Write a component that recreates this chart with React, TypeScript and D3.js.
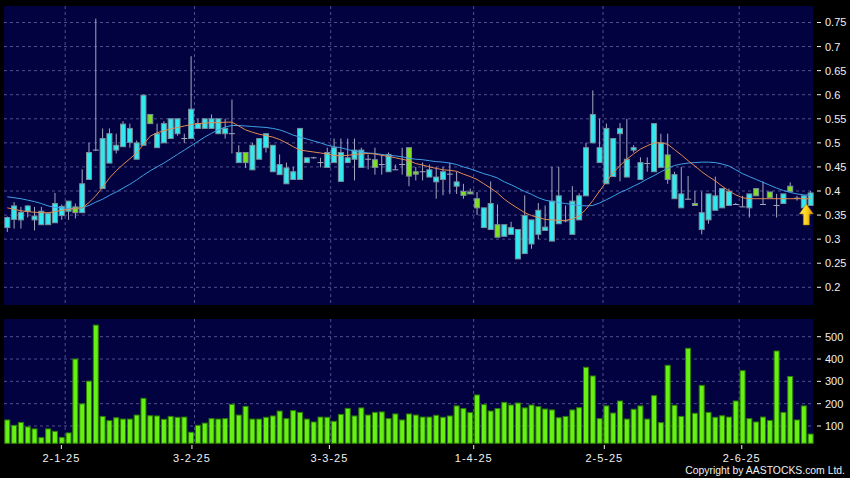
import React from 'react';
import * as d3 from 'd3';

// ---------- data ----------
const xTickLabels = ['2-1-25', '3-2-25', '3-3-25', '1-4-25', '2-5-25', '2-6-25'];
const xTickIndex = [9, 28, 48, 69, 88, 108];
const priceTicks = [0.2, 0.25, 0.3, 0.35, 0.4, 0.45, 0.5, 0.55, 0.6, 0.65, 0.7, 0.75];
const volumeTicks = [100, 200, 300, 400, 500];

const openPrices = [
  0.324, 0.341, 0.340, 0.358, 0.340, 0.330, 0.330, 0.334, 0.349, 0.358,
  0.367, 0.355, 0.424, 0.485, 0.405, 0.458, 0.485, 0.492, 0.501, 0.466,
  0.495, 0.559, 0.490, 0.500, 0.509, 0.519, 0.509, 0.509, 0.530, 0.530,
  0.530, 0.519, 0.519, 0.519, 0.459, 0.480, 0.444, 0.466, 0.490, 0.440,
  0.434, 0.415, 0.424, 0.424, 0.459, 0.469, 0.459, 0.449, 0.459, 0.420,
  0.459, 0.466, 0.449, 0.466, 0.465, 0.455, 0.440, 0.444, 0.455, 0.490,
  0.440, 0.440, 0.429, 0.419, 0.424, 0.435, 0.410, 0.399, 0.398, 0.384,
  0.324, 0.320, 0.330, 0.306, 0.310, 0.259, 0.270, 0.290, 0.310, 0.318,
  0.296, 0.332, 0.338, 0.310, 0.340, 0.390, 0.500, 0.459, 0.415, 0.430,
  0.519, 0.429, 0.485, 0.424, 0.457, 0.440, 0.449, 0.475, 0.384, 0.365,
  0.383, 0.374, 0.320, 0.340, 0.360, 0.365, 0.370, 0.372, 0.367, 0.365,
  0.405, 0.372, 0.398, 0.370, 0.374, 0.410, 0.385, 0.365, 0.370,
];
const highPrices = [
  0.347, 0.377, 0.367, 0.370, 0.367, 0.367, 0.355, 0.396, 0.372, 0.379,
  0.374, 0.445, 0.500, 0.758, 0.530, 0.530, 0.519, 0.545, 0.540, 0.505,
  0.600, 0.559, 0.540, 0.545, 0.550, 0.550, 0.519, 0.680, 0.550, 0.550,
  0.559, 0.550, 0.550, 0.590, 0.495, 0.480, 0.500, 0.509, 0.519, 0.495,
  0.476, 0.459, 0.450, 0.530, 0.469, 0.471, 0.469, 0.490, 0.509, 0.509,
  0.509, 0.509, 0.490, 0.476, 0.490, 0.476, 0.480, 0.455, 0.490, 0.490,
  0.450, 0.459, 0.455, 0.450, 0.450, 0.459, 0.440, 0.415, 0.405, 0.398,
  0.365, 0.420, 0.372, 0.330, 0.336, 0.320, 0.391, 0.340, 0.375, 0.370,
  0.450, 0.450, 0.370, 0.410, 0.395, 0.500, 0.609, 0.550, 0.540, 0.509,
  0.541, 0.550, 0.495, 0.470, 0.470, 0.540, 0.519, 0.519, 0.440, 0.450,
  0.431, 0.400, 0.399, 0.394, 0.430, 0.405, 0.405, 0.375, 0.390, 0.394,
  0.405, 0.420, 0.398, 0.394, 0.394, 0.418, 0.390, 0.390, 0.400,
];
const lowPrices = [
  0.315, 0.322, 0.322, 0.345, 0.318, 0.330, 0.330, 0.334, 0.340, 0.340,
  0.343, 0.355, 0.424, 0.483, 0.405, 0.458, 0.478, 0.492, 0.490, 0.466,
  0.495, 0.540, 0.490, 0.500, 0.509, 0.515, 0.500, 0.509, 0.530, 0.530,
  0.530, 0.519, 0.509, 0.478, 0.459, 0.448, 0.444, 0.466, 0.480, 0.440,
  0.434, 0.415, 0.424, 0.424, 0.459, 0.467, 0.449, 0.449, 0.459, 0.420,
  0.459, 0.422, 0.449, 0.445, 0.434, 0.434, 0.440, 0.444, 0.434, 0.410,
  0.422, 0.422, 0.429, 0.384, 0.391, 0.394, 0.394, 0.384, 0.394, 0.350,
  0.324, 0.320, 0.304, 0.306, 0.310, 0.259, 0.270, 0.280, 0.300, 0.318,
  0.296, 0.332, 0.335, 0.310, 0.340, 0.390, 0.500, 0.459, 0.415, 0.430,
  0.420, 0.429, 0.480, 0.424, 0.440, 0.440, 0.449, 0.415, 0.384, 0.365,
  0.383, 0.370, 0.310, 0.332, 0.360, 0.365, 0.370, 0.372, 0.367, 0.345,
  0.390, 0.372, 0.386, 0.345, 0.374, 0.399, 0.380, 0.365, 0.370,
];
const closePrices = [
  0.345, 0.369, 0.356, 0.369, 0.348, 0.358, 0.353, 0.374, 0.368, 0.379,
  0.355, 0.415, 0.480, 0.485, 0.509, 0.519, 0.495, 0.539, 0.530, 0.500,
  0.599, 0.540, 0.519, 0.540, 0.550, 0.550, 0.509, 0.570, 0.540, 0.550,
  0.550, 0.550, 0.530, 0.519, 0.480, 0.459, 0.495, 0.509, 0.519, 0.495,
  0.455, 0.448, 0.440, 0.530, 0.469, 0.469, 0.459, 0.480, 0.490, 0.480,
  0.469, 0.485, 0.485, 0.466, 0.449, 0.455, 0.476, 0.444, 0.455, 0.431,
  0.435, 0.440, 0.444, 0.429, 0.440, 0.435, 0.419, 0.391, 0.394, 0.365,
  0.365, 0.374, 0.304, 0.330, 0.324, 0.320, 0.349, 0.340, 0.360, 0.325,
  0.379, 0.390, 0.338, 0.379, 0.390, 0.490, 0.559, 0.490, 0.530, 0.509,
  0.530, 0.466, 0.490, 0.459, 0.457, 0.540, 0.500, 0.424, 0.434, 0.394,
  0.383, 0.370, 0.355, 0.394, 0.390, 0.405, 0.399, 0.372, 0.367, 0.394,
  0.390, 0.372, 0.386, 0.370, 0.394, 0.399, 0.385, 0.390, 0.396,
];
const volumes = [
  127, 103, 116, 96, 87, 48, 87, 76, 49, 69,
  400, 199, 301, 552, 143, 124, 137, 131, 131, 149,
  224, 146, 145, 130, 143, 139, 140, 72, 103, 113,
  133, 131, 133, 197, 149, 188, 131, 131, 139, 145,
  167, 133, 169, 161, 131, 118, 140, 139, 121, 152,
  179, 145, 181, 149, 161, 163, 133, 154, 127, 154,
  149, 140, 140, 148, 139, 145, 190, 178, 160, 239,
  196, 167, 178, 206, 194, 203, 181, 194, 187, 176,
  172, 137, 143, 172, 182, 363, 324, 133, 190, 158,
  212, 131, 175, 190, 131, 236, 115, 372, 193, 143,
  448, 157, 282, 161, 139, 146, 140, 212, 348, 133,
  118, 140, 125, 436, 161, 322, 127, 190, 64,
];
const maShort = [
  0.365, 0.362, 0.359, 0.357, 0.356, 0.355, 0.355, 0.357, 0.360, 0.362,
  0.364, 0.365, 0.376, 0.390, 0.408, 0.427, 0.442, 0.455, 0.467, 0.479,
  0.497, 0.514, 0.521, 0.525, 0.529, 0.532, 0.535, 0.538, 0.540, 0.541,
  0.542, 0.542, 0.543, 0.543, 0.535, 0.527, 0.522, 0.518, 0.515, 0.512,
  0.507, 0.500, 0.492, 0.485, 0.483, 0.481, 0.479, 0.477, 0.474, 0.473,
  0.474, 0.476, 0.477, 0.478, 0.477, 0.474, 0.472, 0.469, 0.466, 0.463,
  0.457, 0.454, 0.450, 0.447, 0.444, 0.443, 0.441, 0.435, 0.430, 0.424,
  0.415, 0.406, 0.396, 0.383, 0.373, 0.364, 0.355, 0.349, 0.345, 0.341,
  0.340, 0.339, 0.339, 0.342, 0.348, 0.362, 0.380, 0.400, 0.420, 0.438,
  0.453, 0.466, 0.477, 0.487, 0.494, 0.500, 0.500, 0.497, 0.486, 0.475,
  0.463, 0.452, 0.440, 0.430, 0.421, 0.410, 0.400, 0.392, 0.386, 0.384,
  0.384, 0.384, 0.384, 0.384, 0.384, 0.384, 0.384, 0.384, 0.384,
];
const maLong = [
  0.388, 0.386, 0.384, 0.381, 0.378, 0.374, 0.369, 0.366, 0.365, 0.364,
  0.364, 0.365, 0.370, 0.377, 0.383, 0.391, 0.398, 0.406, 0.414, 0.423,
  0.433, 0.442, 0.450, 0.458, 0.467, 0.476, 0.485, 0.494, 0.503, 0.512,
  0.520, 0.527, 0.533, 0.536, 0.536, 0.535, 0.534, 0.533, 0.532, 0.530,
  0.527, 0.522, 0.516, 0.512, 0.508, 0.504, 0.500, 0.495, 0.492, 0.490,
  0.486, 0.483, 0.481, 0.479, 0.478, 0.476, 0.474, 0.473, 0.471, 0.468,
  0.466, 0.465, 0.463, 0.461, 0.460, 0.458, 0.455, 0.450, 0.446, 0.441,
  0.436, 0.432, 0.427, 0.419, 0.413, 0.406, 0.399, 0.393, 0.386, 0.381,
  0.378, 0.376, 0.374, 0.372, 0.370, 0.369, 0.370, 0.375, 0.382, 0.389,
  0.397, 0.403, 0.410, 0.417, 0.425, 0.432, 0.440, 0.447, 0.453, 0.456,
  0.458, 0.459, 0.460, 0.460, 0.459, 0.456, 0.452, 0.444, 0.436, 0.430,
  0.424, 0.418, 0.412, 0.406, 0.401, 0.397, 0.394, 0.392, 0.391,
];

// ---------- layout ----------
const W = 850;
const H = 478;
const plotLeft = 4;
const plotRight = 813;
const priceTop = 6;
const priceBottom = 305;
const volTop = 319;
const volBottom = 443.3;

const colors = {
  page: '#000000',
  panel: '#020240',
  grid: '#50508f',
  text: '#f0f0f0',
  up: '#31eaf0',
  down: '#7fe022',
  bodyStroke: '#7a8f9c',
  wick: '#a4a8bc',
  vol: '#66f014',
  volStroke: '#2e7d05',
  maShort: '#e38a4f',
  maLong: '#3f9fe6',
};

export default function App() {
  const n = closePrices.length;
  const idx = d3.range(n);

  const x = d3
    .scaleBand<number>()
    .domain(idx)
    .range([3.9, 814.05])
    .paddingInner(0.12)
    .paddingOuter(0.06);
  const step = x.step();
  const bw = x.bandwidth();
  const cx = (i: number) => (x(i) as number) + bw / 2;
  const gridX = (i: number) => (x(i) as number) - (step - bw) / 2;

  const tickX = d3.scaleLinear().domain([0, n - 1]).range([-0.5, 810.5]);

  const y = d3.scaleLinear().domain([0.2, 0.75]).range([287.3, 22.5]);
  const yv = d3.scaleLinear().domain([100, 500]).range([426, 336.7]);

  const lineShort = d3
    .line<number>()
    .x((_, i) => cx(i))
    .y((d) => y(d));

  const font = "'Liberation Sans', Arial, sans-serif";

  const lastI = n - 1;
  const ax = cx(lastI) - 4.3;
  const ay = y(lowPrices[lastI]) - 1.5;
  const arrowPath = `M${ax},${ay} L${ax + 7},${ay + 10} L${ax + 3},${ay + 10} L${ax + 3},${ay + 21} L${ax - 3},${ay + 21} L${ax - 3},${ay + 10} L${ax - 7},${ay + 10} Z`;

  return (
    <svg
      width={W}
      height={H}
      style={{ position: 'absolute', left: 0, top: 0, display: 'block' }}
      xmlns="http://www.w3.org/2000/svg"
    >
      <defs>
        <linearGradient id="arrowGrad" x1="0" x2="1" y1="0" y2="0">
          <stop offset="0" stopColor="#fff07a" />
          <stop offset="0.5" stopColor="#ffd21c" />
          <stop offset="1" stopColor="#d99400" />
        </linearGradient>
      </defs>
      <rect x={0} y={0} width={W} height={H} fill={colors.page} />
      {/* panels */}
      <rect x={plotLeft} y={priceTop} width={plotRight - plotLeft} height={priceBottom - priceTop} fill={colors.panel} />
      <rect x={plotLeft} y={volTop} width={plotRight - plotLeft} height={volBottom - volTop} fill={colors.panel} />

      {/* price grid */}
      {priceTicks.map((t) => (
        <line key={'pg' + t} x1={plotLeft} x2={plotRight} y1={y(t)} y2={y(t)} stroke={colors.grid} strokeWidth={1} strokeDasharray="3,3" />
      ))}
      {volumeTicks.map((t) => (
        <line key={'vg' + t} x1={plotLeft} x2={plotRight} y1={yv(t)} y2={yv(t)} stroke={colors.grid} strokeWidth={1} strokeDasharray="3,3" />
      ))}
      {xTickIndex.map((k) => (
        <g key={'xg' + k}>
          <line x1={gridX(k)} x2={gridX(k)} y1={priceTop} y2={priceBottom} stroke={colors.grid} strokeWidth={1} strokeDasharray="3,3" />
          <line x1={gridX(k)} x2={gridX(k)} y1={volTop} y2={volBottom} stroke={colors.grid} strokeWidth={1} strokeDasharray="3,3" />
        </g>
      ))}

      {/* candles */}
      {idx.map((i) => {
        const o = openPrices[i];
        const c = closePrices[i];
        const xc = cx(i);
        const x0 = x(i) as number;
        const top = y(Math.max(o, c));
        const bot = y(Math.min(o, c));
        const doji = Math.abs(o - c) < 1e-9;
        return (
          <g key={'c' + i}>
            <line x1={xc} x2={xc} y1={y(highPrices[i])} y2={y(lowPrices[i])} stroke={colors.wick} strokeWidth={1} />
            {doji ? (
              <line x1={x0} x2={x0 + bw} y1={top} y2={top} stroke={colors.wick} strokeWidth={1} />
            ) : (
              <rect
                x={x0 + 0.5}
                y={top}
                width={bw - 1}
                height={Math.max(1, bot - top)}
                fill={c > o ? colors.up : colors.down}
                stroke={colors.bodyStroke}
                strokeWidth={1}
              />
            )}
          </g>
        );
      })}

      {/* moving averages */}
      <path d={lineShort(maLong) || ''} fill="none" stroke={colors.maLong} strokeWidth={1} />
      <path d={lineShort(maShort) || ''} fill="none" stroke={colors.maShort} strokeWidth={1} />

      {/* last price arrow */}
      <path d={arrowPath} fill="url(#arrowGrad)" stroke="#b07800" strokeWidth={0.6} />

      {/* volume bars */}
      {idx.map((i) => (
        <rect
          key={'v' + i}
          x={(x(i) as number) + 0.5}
          y={yv(volumes[i])}
          width={bw - 1}
          height={volBottom - yv(volumes[i])}
          fill={colors.vol}
          stroke={colors.volStroke}
          strokeWidth={1}
        />
      ))}

      {/* right price axis */}
      {priceTicks.map((t) => (
        <g key={'pt' + t}>
          <line x1={817} x2={821} y1={y(t)} y2={y(t)} stroke={colors.text} strokeWidth={1} />
          <text x={825} y={y(t)} dy="0.36em" fill={colors.text} fontFamily={font} fontSize={11}>
            {String(t)}
          </text>
        </g>
      ))}
      {/* right volume axis */}
      {volumeTicks.map((t) => (
        <g key={'vt' + t}>
          <line x1={817} x2={821} y1={yv(t)} y2={yv(t)} stroke={colors.text} strokeWidth={1} />
          <text x={825} y={yv(t)} dy="0.36em" fill={colors.text} fontFamily={font} fontSize={11}>
            {String(t)}
          </text>
        </g>
      ))}

      {/* x axis */}
      {xTickIndex.map((k, j) => (
        <g key={'xt' + k}>
          <line x1={tickX(k)} x2={tickX(k)} y1={445} y2={449} stroke={colors.text} strokeWidth={1} />
          <text x={tickX(k)} y={461.5} textAnchor="middle" fill={colors.text} fontFamily={font} fontSize={11} letterSpacing={1}>
            {xTickLabels[j]}
          </text>
        </g>
      ))}

      <text x={845} y={474} textAnchor="end" fill={colors.text} fontFamily={font} fontSize={10.4}>
        Copyright by AASTOCKS.com Ltd.
      </text>
    </svg>
  );
}
